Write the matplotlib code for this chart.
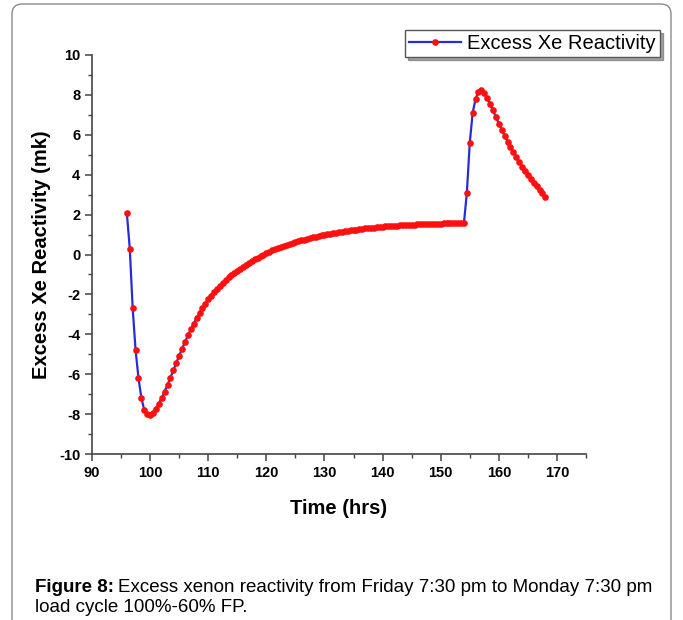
import matplotlib
matplotlib.use('Agg')
import matplotlib.pyplot as plt
import numpy as np
from matplotlib.patches import FancyBboxPatch
from matplotlib.ticker import MultipleLocator

plt.rcParams['font.family'] = ['Liberation Sans', 'DejaVu Sans']
plt.rcParams['axes.unicode_minus'] = False

# Xe reactivity sampled every half hour, Friday 7:30 pm (96 h) to Monday 7:30 pm (168 h)
time_hrs = np.arange(96, 168.5, 0.5)
excess_xe_mk = [
    2.06, 0.30, -2.70, -4.80, -6.20, -7.20, -7.80, -8.02, -8.05, -7.92,
    -7.72, -7.47, -7.18, -6.87, -6.53, -6.17, -5.80, -5.43, -5.07, -4.72,
    -4.38, -4.06, -3.75, -3.46, -3.18, -2.92, -2.68, -2.46, -2.25, -2.06,
    -1.88, -1.71, -1.56, -1.42, -1.28, -1.15, -1.03, -0.92, -0.81, -0.71,
    -0.61, -0.51, -0.42, -0.33, -0.24, -0.16, -0.08, 0.00, 0.07, 0.14,
    0.21, 0.27, 0.33, 0.39, 0.44, 0.49, 0.54, 0.59, 0.63, 0.67,
    0.71, 0.75, 0.79, 0.83, 0.86, 0.90, 0.93, 0.96, 0.99, 1.02,
    1.05, 1.07, 1.10, 1.12, 1.15, 1.17, 1.19, 1.21, 1.23, 1.25,
    1.27, 1.29, 1.31, 1.32, 1.34, 1.35, 1.37, 1.38, 1.39, 1.41,
    1.42, 1.43, 1.44, 1.45, 1.46, 1.47, 1.48, 1.49, 1.50, 1.50,
    1.51, 1.52, 1.52, 1.53, 1.53, 1.54, 1.54, 1.55, 1.55, 1.56,
    1.56, 1.56, 1.57, 1.57, 1.57, 1.58, 1.58, 3.10, 5.60, 7.10,
    7.80, 8.15, 8.25, 8.10, 7.85, 7.55, 7.22, 6.88, 6.56, 6.25,
    5.95, 5.66, 5.39, 5.13, 4.88, 4.64, 4.41, 4.19, 3.98, 3.78,
    3.59, 3.41, 3.23, 3.06, 2.90,
]

x_ticks = [90, 100, 110, 120, 130, 140, 150, 160, 170]
y_ticks = [-10, -8, -6, -4, -2, 0, 2, 4, 6, 8, 10]

fig = plt.figure(figsize=(6.83, 6.2), dpi=100)
ax = fig.add_axes([92 / 683, 1 - 454 / 620, 494 / 683, 399 / 620])

ax.plot(time_hrs, excess_xe_mk, color='#2b2bd4', lw=1.6, marker='o', ms=4.8,
        mfc='#ff1010', mec='#ff1010', mew=0, label='Excess Xe Reactivity')

ax.set_xlim(90, 175)
ax.set_ylim(-10, 10)
ax.set_xticks(x_ticks)
ax.set_yticks(y_ticks)
ax.xaxis.set_minor_locator(MultipleLocator(5))
ax.yaxis.set_minor_locator(MultipleLocator(1))

for side in ['top', 'right']:
    ax.spines[side].set_visible(False)
for side in ['left', 'bottom']:
    ax.spines[side].set_color('#444444')
    ax.spines[side].set_linewidth(1.2)

ax.tick_params(which='major', direction='out', length=5, width=1.1, color='#444444', labelsize=10.5)
ax.tick_params(which='minor', direction='out', length=3, width=1.0, color='#444444')
for lbl in ax.get_xticklabels() + ax.get_yticklabels():
    lbl.set_fontweight('bold')

ax.set_xlabel('Time (hrs)', fontsize=14.5, fontweight='bold', labelpad=14)
ax.set_ylabel('Excess Xe Reactivity (mk)', fontsize=14.5, fontweight='bold', labelpad=6)

leg = fig.legend(loc='upper right', bbox_to_anchor=(660 / 683, 1 - 30 / 620), borderaxespad=0,
                 fontsize=14.5, handlelength=2.6, handletextpad=0.3, borderpad=0.2,
                 fancybox=False, shadow=True, edgecolor='#555555')
leg.get_frame().set_linewidth(1.0)

# outer rounded frame around the figure panel
frame = FancyBboxPatch((12, -20), 659, 636, boxstyle='round,pad=0,rounding_size=10',
                       transform=None, fill=False, edgecolor='#8a8a8a', lw=1.0)
fig.patches.append(frame)

cap_y1 = 1 - 588 / 620
cap_y2 = 1 - 607 / 620
head = fig.text(35 / 683, cap_y1, 'Figure 8:', fontsize=13.5, fontweight='bold', va='center')
fig.canvas.draw()
bb = head.get_window_extent()
fig.text((bb.x1 + 4) / 683, cap_y1, 'Excess xenon reactivity from Friday 7:30 pm to Monday 7:30 pm',
         fontsize=13.5, va='center')
fig.text(35 / 683, cap_y2, 'load cycle 100%-60% FP.', fontsize=13.5, va='center')

fig.savefig('out.png', dpi=100)
